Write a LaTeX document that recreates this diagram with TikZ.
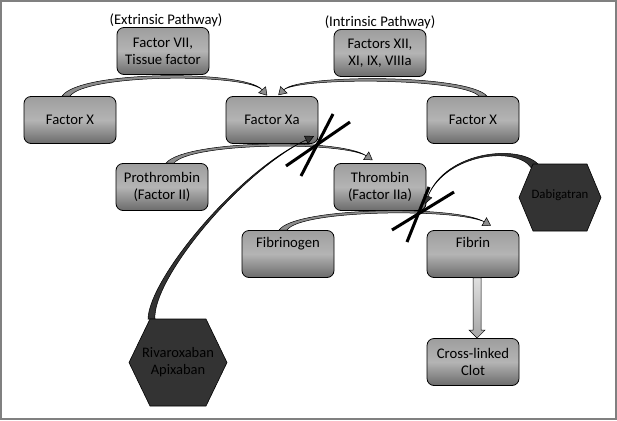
\documentclass[tikz,border=0pt]{standalone}
\usepackage{fontspec}
\setmainfont{Carlito}
\usetikzlibrary{arrows.meta,calc}
\definecolor{boxtop}{HTML}{9E9E9E}
\definecolor{boxmid}{HTML}{B4B4B4}
\definecolor{boxbot}{HTML}{6B6B6B}
\definecolor{hexfill}{HTML}{333333}
\definecolor{bandgray}{HTML}{8C8C8C}
\definecolor{framegray}{HTML}{808080}
\begin{document}
\begin{tikzpicture}[x=1pt,y=-1pt,
  box/.style={rectangle, rounded corners=7pt, draw=black, line width=0.8pt,
    minimum width=92pt, minimum height=47pt, inner sep=0pt,
    top color=boxtop, bottom color=boxbot, middle color=boxmid,
    align=center, font=\fontsize{14.7}{17}\selectfont},
  lbl/.style={font=\fontsize{14.7}{17}\selectfont, inner sep=0pt},
  hextext/.style={align=center, inner sep=0pt, text=black},
  hexshape/.style={fill=hexfill, draw=black, line width=0.6pt},
  band/.style={fill=bandgray, draw=black, line width=0.5pt},
  darkband/.style={fill=hexfill, draw=black, line width=0.5pt},
  head/.style={line width=0.5pt, -{Triangle[length=8pt,width=10pt,fill=bandgray]}},
  darkhead/.style={line width=0.5pt, -{Triangle[length=9pt,width=9pt,fill=hexfill]}},
  xmark/.style={line width=3pt, draw=black},
  blockarrow/.style={draw=black, line width=0.5pt, top color=gray!25, bottom color=gray!70},
]
\useasboundingbox (0,0) rectangle (617,420);
\fill[white] (0,0) rectangle (617,420);
\draw[framegray, line width=2pt] (1,1) rectangle (616,419);

% labels
\node[lbl] (ext) at (166,20) {(Extrinsic Pathway)};
\node[lbl] (int) at (380,22) {(Intrinsic Pathway)};

% boxes
\node[box] (f7)  at (163,51)  {Factor VII,\\Tissue factor};
\node[box] (f12) at (380,53)  {Factors XII,\\XI, IX, VIIIa};
\node[box] (fxl) at (70,120)  {Factor X};
\node[box] (fxa) at (272,120) {Factor Xa};
\node[box] (fxr) at (473,120) {Factor X};
\node[box] (pro) at (162,187) {Prothrombin\\(Factor II)};
\node[box] (thr) at (380,187) {Thrombin\\(Factor IIa)};
\node[box] (fbg) at (288,254) {Fibrinogen\\[6pt]\mbox{}};
\node[box] (fbn) at (473,254) {Fibrin\\[6pt]\mbox{}};
\node[box] (clot) at (473,362) {Cross-linked\\Clot};

% hexagon centres
\coordinate (rivc) at (178,362.5);
\coordinate (dabc) at (560,197.5);
\coordinate (x1) at (316,145);
\coordinate (x2) at (419,213);

% connector 1: Factor X -> Factor Xa (extrinsic)
\coordinate (a1) at ($(fxl.north)+(-8,0)$);
\coordinate (b1) at ($(fxl.north)+(0,0)$);
\coordinate (e1) at ($(fxa.north)+(-10,-6.5)$);
\filldraw[band] (a1) .. controls (80,70) and (245,70) .. (e1)
  .. controls (243,73) and (86,74) .. (b1) -- cycle;
\draw[head] (e1) -- ($(e1)!-8pt!(245,70)$);

% connector 2: Factor X (right) -> Factor Xa (intrinsic)
\coordinate (a2) at ($(fxr.north)+(14,0)$);
\coordinate (b2) at ($(fxr.north)+(6,0)$);
\coordinate (e2) at ($(fxa.north)+(12,-6.5)$);
\filldraw[band] (a2) .. controls (468,74) and (300,74) .. (e2)
  .. controls (302,77) and (462,78) .. (b2) -- cycle;
\draw[head] (e2) -- ($(e2)!-8pt!(300,74)$);

% connector 3: Prothrombin -> Thrombin
\coordinate (a3) at ($(pro.north)+(4,0)$);
\coordinate (b3) at ($(pro.north)+(12,0)$);
\coordinate (e3) at ($(thr.north)+(-14,-7.5)$);
\filldraw[band] (a3) .. controls (185,140) and (340,138) .. (e3)
  .. controls (338,141) and (190,143) .. (b3) -- cycle;
\draw[head] (e3) -- ($(e3)!-8pt!(340,138)$);

% connector 4: Fibrinogen -> Fibrin
\coordinate (a4) at ($(fbg.north)+(-9,0)$);
\coordinate (b4) at ($(fbg.north)+(-1,0)$);
\coordinate (e4) at ($(fbn.north)+(11,-8.5)$);
\filldraw[band] (a4) .. controls (295,207) and (455,205) .. (e4)
  .. controls (452,208) and (300,210) .. (b4) -- cycle;
\draw[head] (e4) -- ($(e4)!-8pt!(455,205)$);

% connector 5: Rivaroxaban -> Factor Xa step
\coordinate (a5) at ($(rivc)+(-30,-43.5)$);
\coordinate (b5) at ($(rivc)+(-23,-43.5)$);
\coordinate (e5) at ($(x1)+(-10,-5)$);
\filldraw[darkband] (a5) .. controls (149,279) and (237,172) .. (e5)
  .. controls (238,174) and (152,280) .. (b5) -- cycle;
\draw[darkhead] (e5) -- ($(e5)!-9pt!(238,173)$);

% connector 6: Dabigatran -> Thrombin step
\coordinate (a6) at ($(dabc)+(-22,-33.5)$);
\coordinate (b6) at ($(dabc)+(-29,-30)$);
\coordinate (e6) at ($(x2)+(9,-17)$);
\filldraw[darkband] (a6) .. controls (518,144) and (446,151) .. (e6)
  .. controls (447,153) and (516,146) .. (b6) -- cycle;
\draw[darkhead] (e6) -- ($(e6)!-9pt!(446,151)$);

% hexagons
\filldraw[hexshape] ($(rivc)+(-49,0)$) -- ($(rivc)+(-28,-43.5)$) -- ($(rivc)+(28,-43.5)$)
  -- ($(rivc)+(49,0)$) -- ($(rivc)+(28,43.5)$) -- ($(rivc)+(-28,43.5)$) -- cycle;
\node[hextext, font=\fontsize{14.5}{17}\selectfont] (riv) at (rivc) {Rivaroxaban\\Apixaban};
\filldraw[hexshape] ($(dabc)+(-41,0)$) -- ($(dabc)+(-27,-33.5)$) -- ($(dabc)+(27,-33.5)$)
  -- ($(dabc)+(41,0)$) -- ($(dabc)+(27,33.5)$) -- ($(dabc)+(-27,33.5)$) -- cycle;
\node[hextext, font=\fontsize{12.8}{15}\selectfont] (dab) at ($(dabc)+(0,-2)$) {Dabigatran};

% X marks
\draw[xmark] ($(x1)+(-30,21)$) -- ($(x1)+(34,-23)$);
\draw[xmark] ($(x1)+(-15,31)$) -- ($(x1)+(17,-31)$);
\draw[xmark] ($(x2)+(-27,17)$) -- ($(x2)+(35,-21)$);
\draw[xmark] ($(x2)+(-12,29)$) -- ($(x2)+(10,-26)$);

% block arrow Fibrin -> Clot
\coordinate (ba1) at ($(fbn.south)+(4,0)$);
\coordinate (ba2) at ($(clot.north)+(4,0)$);
\path[blockarrow] ($(ba1)+(-4,0)$) -- ($(ba1)+(4,0)$) -- ($(ba2)+(4,-8)$) -- ($(ba2)+(8,-8)$)
  -- (ba2) -- ($(ba2)+(-8,-8)$) -- ($(ba2)+(-4,-8)$) -- cycle;
\end{tikzpicture}
\end{document}
